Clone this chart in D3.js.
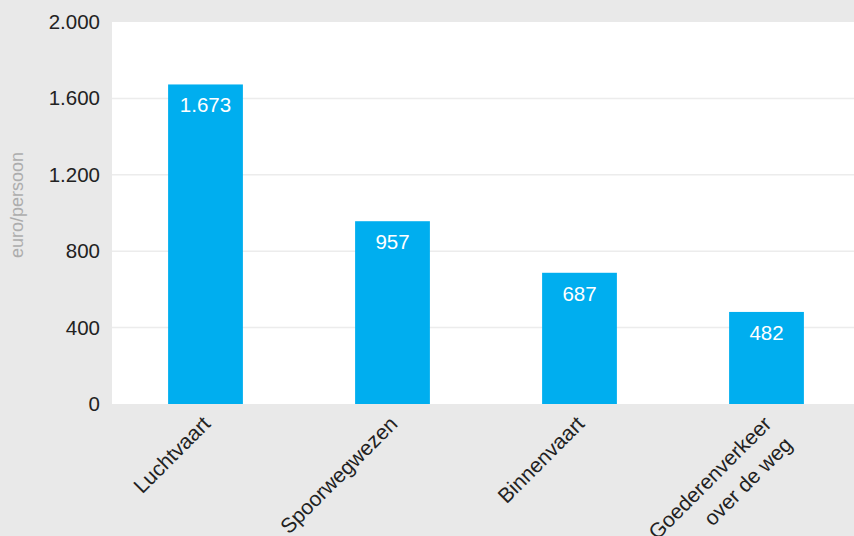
<!DOCTYPE html>
<html>
<head>
<meta charset="utf-8">
<script src="https://cdn.jsdelivr.net/npm/d3@7"></script>
<style>
  body { margin: 0; background: #e9e9e9; }
  svg { display: block; font-family: "Liberation Sans", Arial, sans-serif; }
</style>
</head>
<body>
<svg id="chart"></svg>
<script>
const categories = ["Luchtvaart", "Spoorwegwezen", "Binnenvaart", "Goederenverkeer\nover de weg"];
const values = [1673, 957, 687, 482];
const yTicks = [0, 400, 800, 1200, 1600, 2000];

const width = 854, height = 536;
const margin = {top: 22, right: 0, bottom: 132, left: 112};

// dutch number format: 1.673
const nl = d3.formatLocale({decimal: ",", thousands: ".", grouping: [3], currency: ["€", ""]});
const fmt = nl.format(",d");

const svg = d3.select("#chart")
    .attr("width", width)
    .attr("height", height);

svg.append("rect")
    .attr("width", width)
    .attr("height", height)
    .attr("fill", "#e9e9e9");

// band range runs a bit past the right edge, like the original
const x = d3.scaleBand()
    .domain(categories)
    .range([margin.left, 860])
    .paddingInner(0.6)
    .paddingOuter(0.3);

const y = d3.scaleLinear()
    .domain([0, 2000])
    .range([height - margin.bottom, margin.top]);

// plot background
svg.append("rect")
    .attr("x", margin.left)
    .attr("y", margin.top)
    .attr("width", width - margin.left - margin.right)
    .attr("height", y(0) - margin.top)
    .attr("fill", "#fff");

// gridlines
svg.append("g")
    .selectAll("line")
    .data(yTicks.slice(1, -1))
    .join("line")
    .attr("x1", margin.left)
    .attr("x2", width - margin.right)
    .attr("y1", d => y(d))
    .attr("y2", d => y(d))
    .attr("stroke", "#ececec")
    .attr("stroke-width", 1.5);

// y axis
const yAxis = svg.append("g")
    .attr("transform", `translate(${margin.left},0)`)
    .call(d3.axisLeft(y).tickValues(yTicks).tickFormat(fmt).tickSize(0).tickPadding(12));
yAxis.select(".domain").remove();
yAxis.selectAll("text")
    .attr("fill", "#222")
    .style("font-size", "20.5px");

svg.append("text")
    .attr("transform", `translate(23,205) rotate(-90)`)
    .attr("text-anchor", "middle")
    .attr("fill", "#adadad")
    .style("font-size", "18px")
    .text("euro/persoon");

// bars
svg.append("g")
    .selectAll("rect")
    .data(values)
    .join("rect")
    .attr("x", (d, i) => x(categories[i]))
    .attr("y", d => y(d))
    .attr("width", x.bandwidth())
    .attr("height", d => y(0) - y(d))
    .attr("fill", "#00aeef");

// value labels
svg.append("g")
    .selectAll("text")
    .data(values)
    .join("text")
    .attr("x", (d, i) => x(categories[i]) + x.bandwidth() / 2)
    .attr("y", d => y(d) + 28)
    .attr("text-anchor", "middle")
    .attr("fill", "#fff")
    .style("font-size", "20.5px")
    .text(d => fmt(d));

// x labels, rotated
const xl = svg.append("g")
    .selectAll("text")
    .data(categories)
    .join("text")
    .attr("transform", d => `translate(${x(d) + x.bandwidth() / 2 + 1},${y(0) + 16}) rotate(-45)`)
    .attr("text-anchor", "end")
    .attr("fill", "#222")
    .style("font-size", "21px");

xl.selectAll("tspan")
    .data(d => d.split("\n"))
    .join("tspan")
    .attr("x", 0)
    .attr("dy", (d, i) => i === 0 ? "0.35em" : "1.4em")
    .text(d => d);
</script>
</body>
</html>
